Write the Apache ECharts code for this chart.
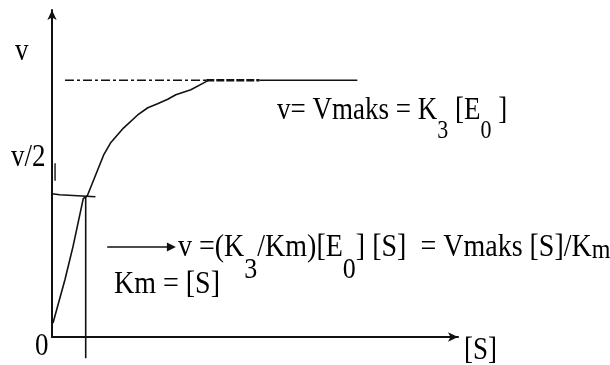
<!DOCTYPE html>
<html>
<head>
<meta charset="utf-8">
<script src="https://cdn.jsdelivr.net/npm/echarts@6/dist/echarts.min.js"></script>
<style>
  html, body { margin: 0; padding: 0; background: #fff; }
  #main { width: 610px; height: 365px; }
</style>
</head>
<body>
<div id="main"></div>
<script>
// Michaelis–Menten saturation curve: reaction rate v against substrate concentration [S]
const curveS = [0.25, 3.2, 5.2, 7.7, 8.7, 10.7, 12.7, 14.4, 17.6, 21.1, 23.6, 26.0, 28.5, 30.5, 34.2, 37.5, 38.4];
const curveV = [4.3, 17.6, 27.8, 42.3, 43.2, 49.4, 55.6, 59.3, 63.9, 67.9, 70.1, 71.3, 72.7, 74.1, 75.6, 77.8, 78.4];

// plateau at Vmaks: dash-dot part, heavy dashed part, solid part
const vmaks = 78.5;
const plateauDashS = [3.2, 38.0];
const plateauBoldS = [38.0, 51.1];
const plateauSolidS = [51.1, 75.2];

// half-rate level and Km guide
const halfS = [0, 1.9, 10.7];
const halfV = [43.8, 43.5, 42.9];
const kmS = 8.3;
const kmV = [42.9, -6.5];

// small tick beside the v/2 level
const halfTickS = 0.75;
const halfTickV = [53.1, 47.8];

// pointer arrow towards the first-order expression
const arrowS = [13.6, 29.4];
const arrowV = 27.5;

const zip = (xs, ys) => xs.map((x, i) => [x, ys[i]]);
const flat = (xs, y) => xs.map(x => [x, y]);

const ink = '#111';
const serif = '"Liberation Serif", "Times New Roman", serif';
const stretch = 1.13;   // slightly tall serif lettering

const chart = echarts.init(document.getElementById('main'), null, { renderer: 'canvas' });

const lineSeries = (data, style) => ({
  type: 'line',
  data,
  showSymbol: false,
  symbol: 'none',
  silent: true,
  clip: false,
  animation: false,
  lineStyle: Object.assign({ color: ink, width: 1.5 }, style)
});

// rich-text pieces: lowered subscripts
function richStyles(main, sub, drop) {
  return {
    sub: { fontSize: sub, fontFamily: serif, fill: '#000', padding: [drop, 0, 0, 0] },
    sm: { fontSize: main - 4, fontFamily: serif, fill: '#000', padding: [7, 0, 0, 0] }
  };
}

// text placed by its baseline, stretched upward from there
function label(x, baseline, size, text, rich) {
  const mid = size * 0.3375;
  const style = { text, fontSize: size, fontFamily: serif, fill: '#000', verticalAlign: 'middle' };
  if (rich) { style.rich = rich; style.lineHeight = 30; }
  return { type: 'text', x, y: baseline - mid, originX: 0, originY: mid, scaleY: stretch, style };
}

const option = {
  backgroundColor: '#fff',
  animation: false,
  grid: { left: 52, right: 152, top: 10, bottom: 28 },
  xAxis: {
    type: 'value', min: 0, max: 100,
    axisLine: { show: true, onZero: false, symbol: ['none', 'arrow'], symbolSize: [7, 10],
      lineStyle: { color: ink, width: 2 } },
    axisTick: { show: false }, axisLabel: { show: false }, splitLine: { show: false }
  },
  yAxis: {
    type: 'value', min: 0, max: 100,
    axisLine: { show: true, onZero: false, symbol: ['none', 'arrow'], symbolSize: [7, 10],
      lineStyle: { color: ink, width: 2 } },
    axisTick: { show: false }, axisLabel: { show: false }, splitLine: { show: false }
  },
  series: [
    lineSeries(zip(curveS, curveV), { width: 1.6 }),
    lineSeries(flat(plateauDashS, vmaks), { type: [9, 3, 3, 3], width: 1.5 }),
    lineSeries(flat(plateauBoldS, vmaks), { type: [8, 2], width: 2.6 }),
    lineSeries(flat(plateauSolidS, vmaks), { width: 1.6 }),
    lineSeries(zip(halfS, halfV), { width: 1.6 }),
    lineSeries(kmV.map(v => [kmS, v]), { width: 1.6 }),
    lineSeries(halfTickV.map(v => [halfTickS, v]), { width: 1.4 }),
    {
      type: 'lines',
      coordinateSystem: 'cartesian2d',
      silent: true,
      animation: false,
      symbol: ['none', 'triangle'],
      symbolSize: [7, 9],
      lineStyle: { color: ink, width: 1.6, opacity: 1 },
      data: [{ coords: flat(arrowS, arrowV) }]
    }
  ],
  graphic: [
    label(15, 62, 27, 'v'),
    label(11, 168, 27, 'v/2'),
    label(35, 357, 27, '0'),
    label(464, 361, 27, '[S]'),
    label(114, 295, 28, 'Km = [S]'),
    label(277, 121, 27, 'v= Vmaks = K{sub|3} [E{sub|0} ]', richStyles(27, 22, 37)),
    label(178, 258, 28, 'v =(K{sub|3}/Km)[E{sub|0}] [S]  = Vmaks [S]/K{sm|m}', richStyles(28, 26, 40))
  ]
};

chart.setOption(option);
</script>
</body>
</html>
